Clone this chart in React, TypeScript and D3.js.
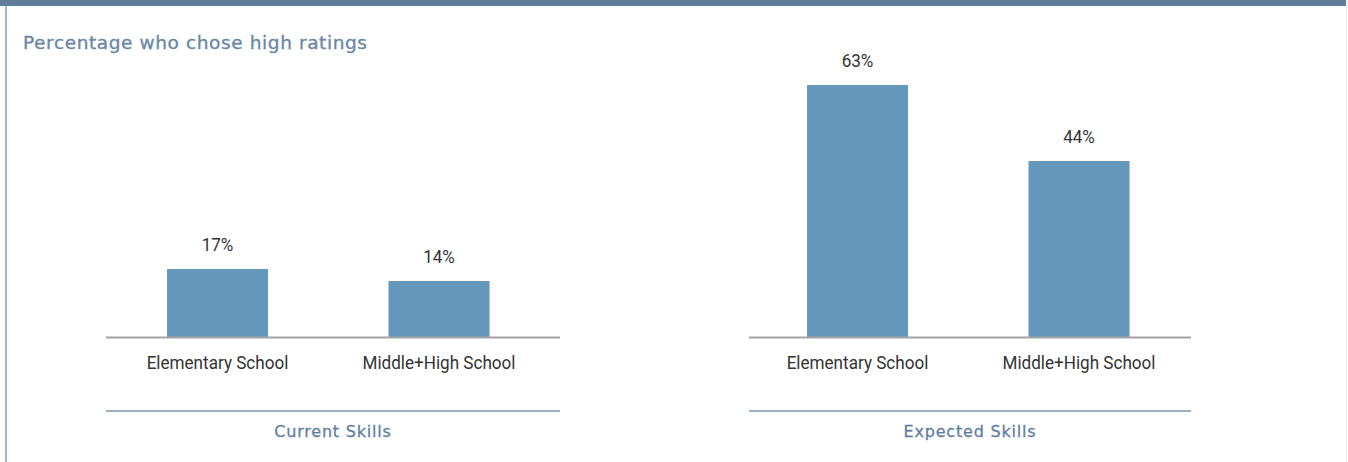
import React from "react";
import * as d3 from "d3";

const categories = ["Elementary School", "Middle+High School"];
const groups = ["Current Skills", "Expected Skills"];
const currentValues = [17, 14];
const expectedValues = [63, 44];
const title = "Percentage who chose high ratings";

const W = 1348;
const H = 462;
const BASE_Y = 337;

const y = d3.scaleLinear().domain([0, 63]).range([BASE_Y, 85]);

const panels = [
  { label: groups[0], values: currentValues, band: [106.75, 549.75], axis: [106, 560] },
  { label: groups[1], values: expectedValues, band: [746.75, 1189.75], axis: [749, 1191] },
];

const condensed = "Roboto, 'Liberation Sans', sans-serif";
const humanist = "'DejaVu Sans', 'Open Sans', sans-serif";
const SX = 0.9;

function CondText({ x, y, children }: { x: number; y: number; children: React.ReactNode }) {
  return (
    <g transform={`translate(${x},${y}) scale(${SX},1)`}>
      <text x={0} y={0} textAnchor="middle" fontFamily={condensed} fontSize={19} fill="#333333">
        {children}
      </text>
    </g>
  );
}

export default function App() {
  return (
    <svg
      width={W}
      height={H}
      style={{ position: "absolute", left: 0, top: 0, display: "block" }}
    >
      <rect x={0} y={0} width={W} height={H} fill="#ffffff" />
      <rect x={0} y={0} width={W - 2} height={6} fill="#607d9b" />
      <rect x={5} y={6} width={2} height={H - 6} fill="#a3b7cc" />
      <rect x={W - 2} y={0} width={1} height={H} fill="#eeeeee" />
      <text
        x={23}
        y={49}
        fontFamily={humanist}
        fontSize={18.5}
        letterSpacing={0.6}
        fill="#6a87a5"
        stroke="#6a87a5"
        strokeWidth={0.35}
      >
        {title}
      </text>
      {panels.map((p, pi) => {
        const x = d3
          .scaleBand<string>()
          .domain(categories)
          .range(p.band as [number, number])
          .paddingInner(0.544)
          .paddingOuter(0.272);
        const cx = (p.axis[0] + p.axis[1]) / 2;
        return (
          <g key={pi}>
            {categories.map((c, i) => {
              const x0 = x(c) as number;
              const v = p.values[i];
              const mid = x0 + x.bandwidth() / 2;
              return (
                <g key={c}>
                  <rect
                    x={x0}
                    y={y(v)}
                    width={x.bandwidth()}
                    height={BASE_Y - y(v)}
                    fill="#6497ba"
                  />
                  <CondText x={mid} y={y(v) - 18}>{v}%</CondText>
                  <CondText x={mid} y={369}>{c}</CondText>
                </g>
              );
            })}
            <line
              x1={p.axis[0]}
              x2={p.axis[1]}
              y1={BASE_Y + 0.5}
              y2={BASE_Y + 0.5}
              stroke="#a3a3a3"
              strokeWidth={2}
            />
            <line
              x1={p.axis[0]}
              x2={p.axis[1]}
              y1={411}
              y2={411}
              stroke="#7891ab"
              strokeWidth={1.5}
            />
            <text
              x={cx}
              y={437}
              textAnchor="middle"
              fontFamily={humanist}
              fontSize={16}
              letterSpacing={0.8}
              fill="#5f7fa0"
              stroke="#5f7fa0"
              strokeWidth={0.3}
            >
              {p.label}
            </text>
          </g>
        );
      })}
    </svg>
  );
}
